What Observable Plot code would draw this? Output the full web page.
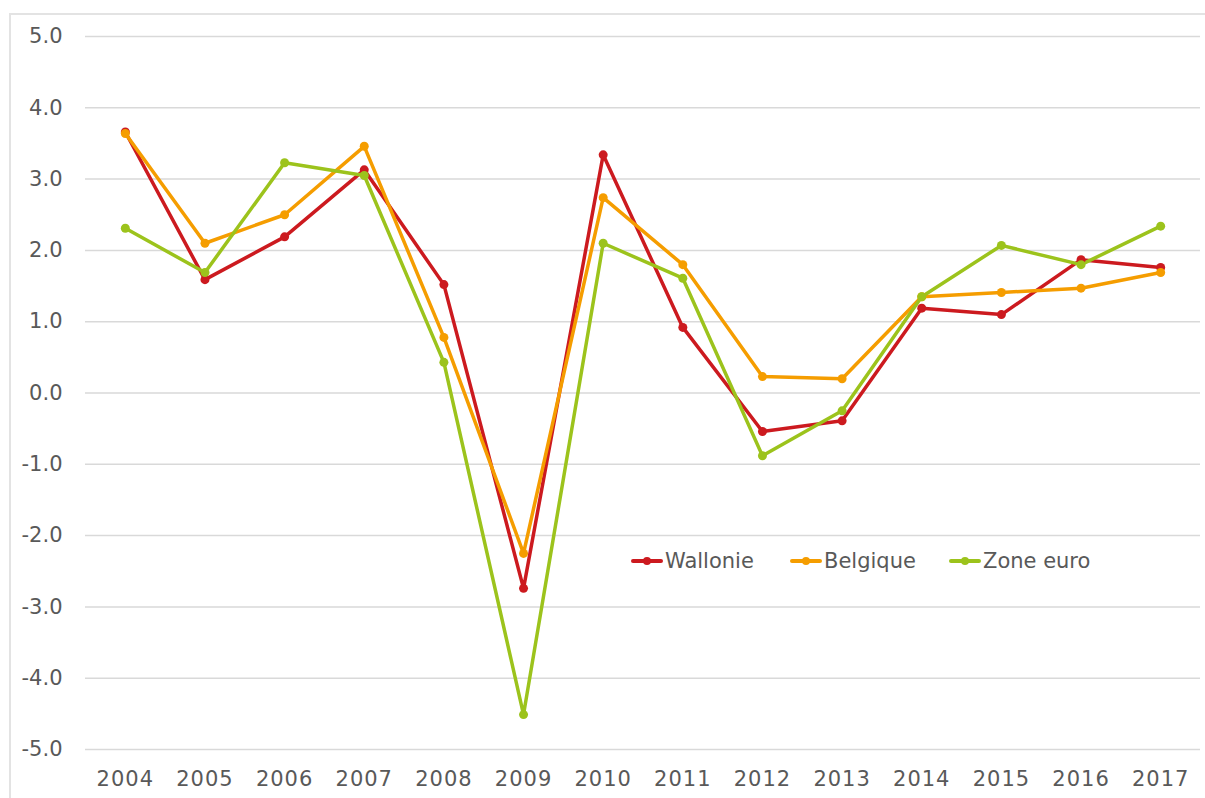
<!DOCTYPE html>
<html>
<head>
<meta charset="utf-8">
<script src="https://cdn.jsdelivr.net/npm/d3@7"></script>
<script src="https://cdn.jsdelivr.net/npm/@observablehq/plot@0.6"></script>
<style>
  html, body { margin: 0; padding: 0; background: #fff; overflow: hidden; width: 1205px; height: 798px; }
  #wrap { position: relative; width: 1205px; height: 798px; font-family: "DejaVu Sans", sans-serif; }
  #border { position: absolute; left: 9px; top: 13px; width: 1300px; height: 900px; border: 2px solid #e3e3e3; box-sizing: border-box; }
  #chart { position: absolute; left: 0; top: 0; }
  .item { position: absolute; top: 548px; display: flex; align-items: center; font-size: 21px; color: #595959; white-space: nowrap; }
  .sw { position: relative; width: 32px; height: 26px; margin-right: 2px; }
  .sw .ln { position: absolute; left: 0; right: 0; top: 11px; height: 4px; border-radius: 2px; }
  .sw .dt { position: absolute; left: 12px; top: 9px; width: 8px; height: 8px; border-radius: 50%; }
</style>
</head>
<body>
<div id="wrap">
  <div id="border"></div>
  <div id="chart"></div>
</div>
<script>
const years = ["2004","2005","2006","2007","2008","2009","2010","2011","2012","2013","2014","2015","2016","2017"];
const wallonie = [3.66, 1.59, 2.19, 3.13, 1.52, -2.74, 3.34, 0.92, -0.54, -0.39, 1.19, 1.10, 1.87, 1.76];
const belgique = [3.64, 2.10, 2.50, 3.46, 0.78, -2.25, 2.74, 1.80, 0.23, 0.20, 1.35, 1.41, 1.47, 1.69];
const zoneEuro = [2.31, 1.69, 3.23, 3.05, 0.43, -4.51, 2.10, 1.61, -0.88, -0.25, 1.35, 2.07, 1.80, 2.34];
const seriesNames = ["Wallonie", "Belgique", "Zone euro"];
const seriesColors = ["#cc1a1f", "#f59d00", "#9cc31c"];
const yTicks = [-5, -4, -3, -2, -1, 0, 1, 2, 3, 4, 5];

const seriesValues = [wallonie, belgique, zoneEuro];
const data = [];
seriesNames.forEach((name, i) => {
  years.forEach((yr, j) => data.push({series: name, year: yr, value: seriesValues[i][j]}));
});

const chart = Plot.plot({
  width: 1205,
  height: 798,
  marginLeft: 85,
  marginRight: 5,
  marginTop: 36,
  marginBottom: 49,
  style: { fontFamily: "'DejaVu Sans', sans-serif", fontSize: "21px", color: "#595959", background: "transparent" },
  x: { type: "point", domain: years, padding: 0.5, round: false, label: null, tickSize: 0, tickPadding: 22 },
  y: { domain: [-5, 5], ticks: yTicks, tickFormat: d => d.toFixed(1), label: null, tickSize: 0, tickPadding: 23 },
  color: { domain: seriesNames, range: seriesColors },
  marks: [
    Plot.ruleY(yTicks, { stroke: "#d9d9d9", strokeWidth: 1.5 }),
    Plot.line(data, { x: "year", y: "value", z: "series", stroke: "series", strokeWidth: 3.5, strokeLinejoin: "round" }),
    Plot.dot(data, { x: "year", y: "value", fill: "series", r: 4.5 })
  ]
});
chart.querySelectorAll("[aria-label='x-axis tick label'] text, [aria-label='y-axis tick label'] text").forEach(t => t.setAttribute("fill", "#595959"));
chart.querySelectorAll("[aria-label='x-axis tick label'] text").forEach(t => t.setAttribute("letter-spacing", "1"));
document.getElementById("chart").appendChild(chart);

const wrap = document.getElementById("wrap");
const lefts = [631, 790, 949];
seriesNames.forEach((name, i) => {
  const it = document.createElement("div");
  it.className = "item";
  it.style.left = lefts[i] + "px";
  it.innerHTML = `<div class="sw"><div class="ln" style="background:${seriesColors[i]}"></div><div class="dt" style="background:${seriesColors[i]}"></div></div><span>${name}</span>`;
  wrap.appendChild(it);
});
</script>
</body>
</html>
